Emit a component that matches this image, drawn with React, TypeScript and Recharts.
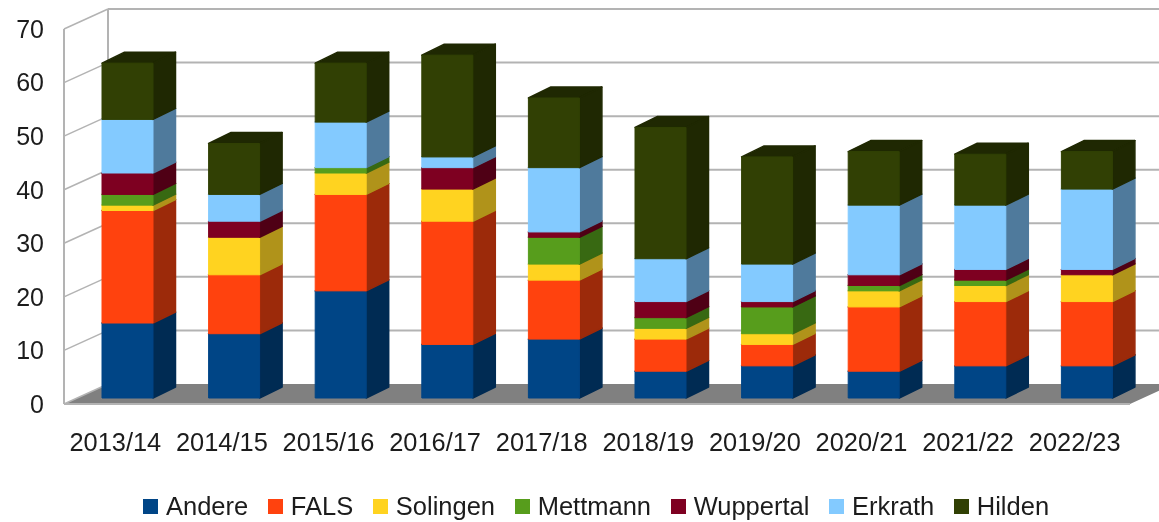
import { BarChart, Bar, XAxis, YAxis, CartesianGrid, Legend } from 'recharts';

const seasons = ['2013/14', '2014/15', '2015/16', '2016/17', '2017/18', '2018/19', '2019/20', '2020/21', '2021/22', '2022/23'];
const seriesNames = ['Andere', 'FALS', 'Solingen', 'Mettmann', 'Wuppertal', 'Erkrath', 'Hilden'];
const andere = [14, 12, 20, 10, 11, 5, 6, 5, 6, 6];
const fals = [21, 11, 18, 23, 11, 6, 4, 12, 12, 12];
const solingen = [1, 7, 4, 6, 3, 2, 2, 3, 3, 5];
const mettmann = [2, 0, 1, 0, 5, 2, 5, 1, 1, 0];
const wuppertal = [4, 3, 0, 4, 1, 3, 1, 2, 2, 1];
const erkrath = [10, 5, 8.5, 2, 12, 8, 7, 13, 12, 15];
const hilden = [10.5, 9.5, 11, 19, 13, 24.5, 20, 10, 9.5, 7];
const yTicks = [0, 10, 20, 30, 40, 50, 60, 70];

const allValues = [andere, fals, solingen, mettmann, wuppertal, erkrath, hilden];
const tableData = seasons.map((season, i) => {
  const row: Record<string, string | number> = { season };
  seriesNames.forEach((name, s) => {
    row[name] = allValues[s][i];
  });
  return row;
});

const FRONT = ['#004586', '#ff420e', '#ffd320', '#579d1c', '#7e0021', '#83caff', '#314004'];
const SIDE = ['#002b53', '#9c2a0a', '#b0931a', '#386912', '#4f0015', '#4f7a9c', '#1f2802'];

const FONT = '"Liberation Sans", Arial, sans-serif';
const TEXT = '#1c1c1c';
const WALL = '#b3b3b3';

// depth of the fake 3D box
const WALL_DX = 44;
const WALL_DY = 20;
const BAR_DX = 22.5;
const BAR_DY = 11;
const BAR_SHIFT_X = 10;
const BAR_SHIFT_Y = 6;

function GridLine(props: any) {
  const { x1, x2, y1, x, y, width, height } = props;
  const bx = x1 + WALL_DX;
  const by = y1 - WALL_DY;
  const isFloor = Math.abs(y1 - (y + height)) < 0.5;
  const isTop = Math.abs(y1 - y) < 0.5;
  return (
    <g>
      {isFloor && (
        <polygon
          points={`${x},${y1} ${bx},${by} ${x + width + WALL_DX},${by} ${x + width},${y1}`}
          fill="#808080"
        />
      )}
      {isTop && (
        <line x1={bx} y1={by} x2={bx} y2={y + height - WALL_DY} stroke={WALL} strokeWidth={2} />
      )}
      {!isFloor && <line x1={bx} y1={by} x2={x2 + WALL_DX} y2={by} stroke={WALL} strokeWidth={2} />}
      <line x1={x1} y1={y1} x2={bx} y2={by} stroke={WALL} strokeWidth={1.5} />
    </g>
  );
}

function makeBox(idx: number) {
  return function Box(props: any) {
    const { x, y, width, height } = props;
    if (!height || height <= 0) return <g />;
    const l = x + BAR_SHIFT_X;
    const t = y - BAR_SHIFT_Y;
    const r = l + width;
    const b = t + height;
    return (
      <g strokeLinejoin="round" strokeWidth={1.5}>
        <polygon
          points={`${l},${t} ${r},${t} ${r + BAR_DX},${t - BAR_DY} ${l + BAR_DX},${t - BAR_DY}`}
          fill={SIDE[idx]}
          stroke={SIDE[idx]}
        />
        <polygon
          points={`${r},${t} ${r + BAR_DX},${t - BAR_DY} ${r + BAR_DX},${b - BAR_DY} ${r},${b}`}
          fill={SIDE[idx]}
          stroke={SIDE[idx]}
        />
        <rect x={l} y={t} width={width} height={height} fill={FRONT[idx]} stroke={FRONT[idx]} strokeWidth={1} />
      </g>
    );
  };
}

function LegendRow({ payload }: any) {
  return (
    <div style={{ display: 'flex', alignItems: 'center', fontFamily: FONT, fontSize: 25.5, color: TEXT, whiteSpace: 'nowrap' }}>
      {(payload || []).map((p: any) => (
        <div key={p.value} style={{ display: 'flex', alignItems: 'center', marginRight: 19.6 }}>
          <span style={{ width: 15, height: 15, background: p.color, marginRight: 8, display: 'inline-block' }} />
          {p.value}
        </div>
      ))}
    </div>
  );
}

export default function App() {
  return (
    <div style={{ position: 'absolute', left: 0, top: 0, width: 1159, height: 522, background: '#fff', filter: 'blur(0.5px)' }}>
      <BarChart
        width={1159}
        height={522}
        data={tableData}
        margin={{ top: 29, right: 29, left: 0, bottom: 78 }}
      >
        <CartesianGrid vertical={false} horizontal={GridLine as any} />
        <XAxis
          dataKey="season"
          interval={0}
          height={40}
          tickLine={false}
          tickMargin={23}
          dx={-2}
          axisLine={{ stroke: WALL, strokeWidth: 2 }}
          tick={{ fontFamily: FONT, fontSize: 25.4, fill: TEXT }}
        />
        <YAxis
          width={64}
          domain={[0, 70]}
          ticks={yTicks}
          tickLine={false}
          tickMargin={14}
          axisLine={{ stroke: WALL, strokeWidth: 2 }}
          tick={{ fontFamily: FONT, fontSize: 25, fill: TEXT }}
        />
        <Legend
          layout="horizontal"
          verticalAlign="middle"
          align="center"
          itemSorter={null as any}
          content={LegendRow as any}
          wrapperStyle={{ position: 'absolute', left: 143, top: 492, width: 'auto' }}
        />
        {seriesNames.map((name, i) => (
          <Bar
            key={name}
            dataKey={name}
            stackId="a"
            fill={FRONT[i]}
            barSize={51}
            shape={makeBox(i)}
            isAnimationActive={false}
          />
        ))}
      </BarChart>
    </div>
  );
}
